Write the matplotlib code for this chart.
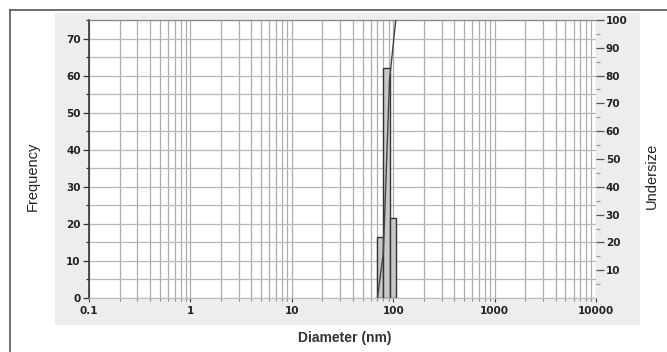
import numpy as np
import matplotlib
matplotlib.use("Agg")
import matplotlib.pyplot as plt
from matplotlib.patches import Rectangle
from matplotlib.lines import Line2D
from matplotlib.ticker import LogLocator, FixedLocator, NullFormatter

# Size distribution
bin_edges = [70, 80, 92, 106]          # nm
frequency = [16.5, 62, 21.5]           # %
cum_sizes = [70, 80, 92, 106]          # nm
undersize = [0, 16.5, 78.5, 100]       # %

x_ticks = [0.1, 1, 10, 100, 1000, 10000]
x_labels = ["0.1", "1", "10", "100", "1000", "10000"]
left_ticks = [0, 10, 20, 30, 40, 50, 60, 70]
right_ticks = [10, 20, 30, 40, 50, 60, 70, 80, 90, 100]

narrow = ["Liberation Sans Narrow", "Liberation Sans", "DejaVu Sans"]
tick_font = {"family": "DejaVu Sans", "weight": "bold", "size": 7.5}

fig = plt.figure(figsize=(6.67, 3.52), dpi=100)

# light grey panel behind the plot
fig.patches.append(Rectangle((55 / 667, 1 - 325 / 352), (640 - 55) / 667, (325 - 13) / 352,
                             transform=fig.transFigure, facecolor="#ededed",
                             edgecolor="none", zorder=-5))
# outer frame (left and top only visible)
fig.add_artist(Line2D([10 / 667, 10 / 667], [0, 1 - 10 / 352], transform=fig.transFigure,
                      color="#555555", lw=1.2))
fig.add_artist(Line2D([10 / 667, 1], [1 - 10 / 352, 1 - 10 / 352], transform=fig.transFigure,
                      color="#555555", lw=1.2))

ax = fig.add_axes([89 / 667, 1 - 298 / 352, (596 - 89) / 667, (298 - 20) / 352])
ax.set_zorder(2)
ax.set_facecolor("white")
ax.set_xscale("log")
ax.set_xlim(0.1, 10000)
ax.set_ylim(0, 75)

# grid
ax.xaxis.set_minor_locator(LogLocator(base=10, subs=np.arange(2, 10)))
ax.xaxis.set_minor_formatter(NullFormatter())
ax.yaxis.set_minor_locator(FixedLocator(np.arange(5, 80, 10)))
ax.grid(True, which="both", axis="x", color="#acacac", lw=0.9)
ax.grid(True, which="both", axis="y", color="#b8b8b8", lw=0.9)
ax.set_axisbelow(True)

ax.bar(bin_edges[:-1], frequency, width=np.diff(bin_edges), align="edge",
       facecolor="#c8c8c8", edgecolor="#333333", lw=1.0, zorder=3)

ax.set_xticks(x_ticks)
ax.set_xticklabels(x_labels, fontdict=tick_font, color="#222222")
ax.set_yticks(left_ticks)
ax.set_yticklabels([str(t) for t in left_ticks], fontdict=tick_font, color="#222222")
ax.tick_params(axis="x", which="major", length=3, width=0.8, color="#444444", pad=3)
ax.tick_params(axis="x", which="minor", length=2, width=0.8, color="#888888")
ax.tick_params(axis="y", which="major", length=4, width=0.9, color="#333333", pad=2)
ax.tick_params(axis="y", which="minor", length=2.5, width=0.9, color="#333333")

ax.spines["left"].set_color("#333333")
ax.spines["left"].set_linewidth(1.2)
ax.spines["bottom"].set_color("#bbbbbb")
ax.spines["top"].set_color("#888888")
ax.spines["right"].set_visible(False)

ax2 = ax.twinx()
ax2.set_zorder(3)
ax2.set_ylim(0, 100)
ax2.plot(cum_sizes, undersize, color="#444444", lw=1.0, zorder=4)
ax2.set_yticks(right_ticks)
ax2.set_yticklabels([str(t) for t in right_ticks], fontdict=tick_font, color="#222222")
ax2.yaxis.set_minor_locator(FixedLocator(np.arange(5, 100, 10)))
ax2.tick_params(axis="y", which="major", length=6, width=0.9, color="#555555", pad=1)
ax2.tick_params(axis="y", which="minor", length=3, width=0.9, color="#999999")
for s in ["left", "bottom", "right"]:
    ax2.spines[s].set_visible(False)
ax2.spines["top"].set_color("#888888")

fig.text(33 / 667, 1 - 176 / 352, "Frequency", rotation=90, ha="center", va="center",
         family=narrow, fontsize=10.5, color="#222222")
fig.text(652 / 667, 1 - 176 / 352, "Undersize", rotation=90, ha="center", va="center",
         family=narrow, fontsize=10.5, color="#222222")
fig.text(345 / 667, 1 - 338 / 352, "Diameter (nm)", ha="center", va="center",
         family=narrow, fontweight="bold", fontsize=10, color="#333333")

fig.savefig("out.png", dpi=100)
